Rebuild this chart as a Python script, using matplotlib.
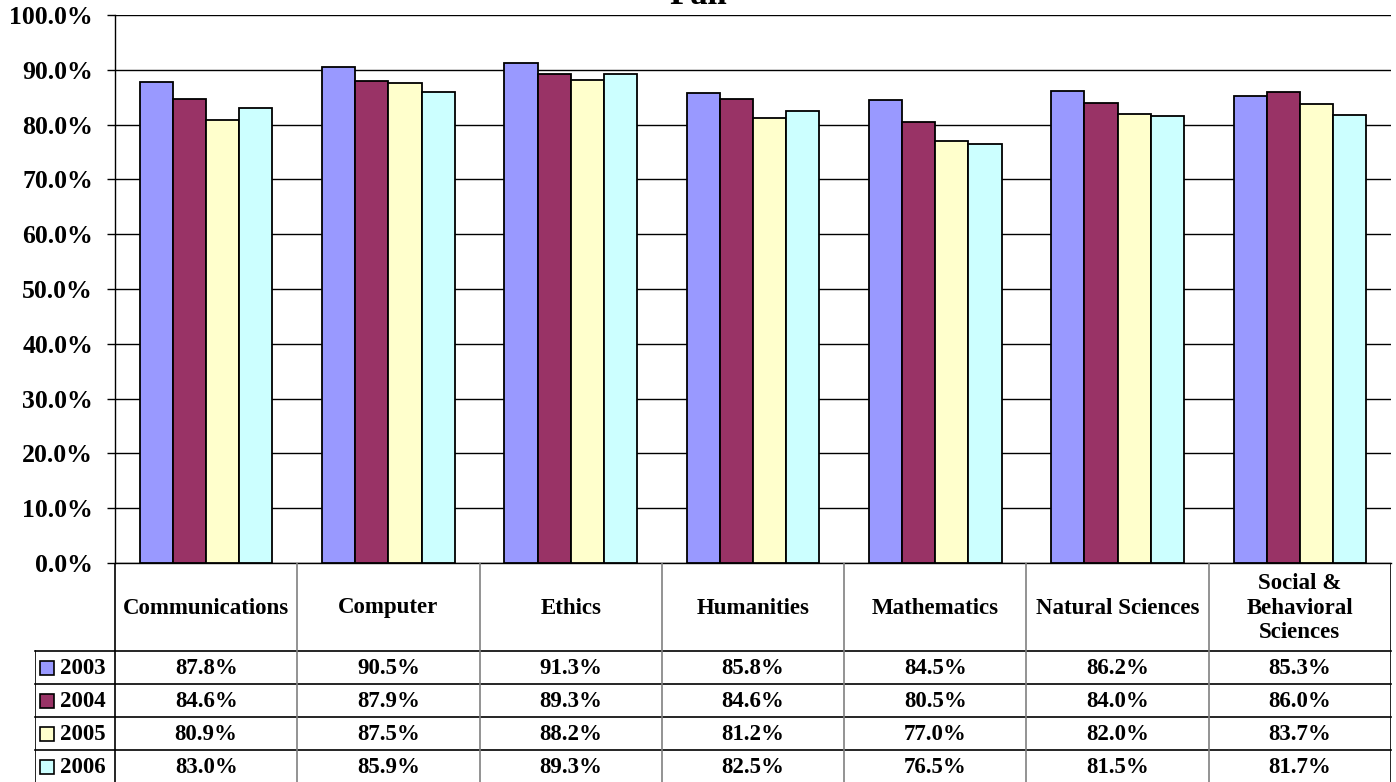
import numpy as np
import matplotlib
matplotlib.use("Agg")
import matplotlib.pyplot as plt
from matplotlib.patches import Rectangle

plt.rcParams['font.family'] = ['Liberation Serif', 'DejaVu Serif']
plt.rcParams['font.weight'] = 'bold'

categories = ["Communications", "Computer", "Ethics", "Humanities",
              "Mathematics", "Natural Sciences", "Social &\nBehavioral\nSciences"]
years = ["2003", "2004", "2005", "2006"]
v2003 = [87.8, 90.5, 91.3, 85.8, 84.5, 86.2, 85.3]
v2004 = [84.6, 87.9, 89.3, 84.6, 80.5, 84.0, 86.0]
v2005 = [80.9, 87.5, 88.2, 81.2, 77.0, 82.0, 83.7]
v2006 = [83.0, 85.9, 89.3, 82.5, 76.5, 81.5, 81.7]
series = [v2003, v2004, v2005, v2006]
colors = ["#9999FF", "#993366", "#FFFFCC", "#CCFFFF"]

W, H = 1396, 782
fig = plt.figure(figsize=(W / 100, H / 100), dpi=100)

# plot area in pixels
x0, x1 = 115, 1391
y_top, y_bot = 15, 563
ax = fig.add_axes([x0 / W, (H - y_bot) / H, (x1 - x0) / W, (y_bot - y_top) / H])

n = len(categories)
bw = 1 / (len(years) + 1.5)
xc = np.arange(n) + 0.5
for k, (vals, c) in enumerate(zip(series, colors)):
    ax.bar(xc + (k - 1.5) * bw, vals, width=bw, color=c,
           edgecolor='black', linewidth=1.3, zorder=3)

ax.set_xlim(0, n)
ax.set_ylim(0, 100)
ax.set_yticks(np.arange(0, 101, 10))
ax.set_yticklabels([f"{t:.1f}%" for t in range(0, 101, 10)], fontsize=18.5, fontweight='bold')
ax.set_xticks([])
ax.grid(axis='y', color='black', linewidth=1, zorder=0)
ax.tick_params(axis='y', length=5.8, width=1, pad=10)
for s in ['top', 'right']:
    ax.spines[s].set_visible(False)
ax.spines['left'].set_linewidth(1)
ax.spines['bottom'].set_linewidth(1)

fig.text(0.5, 1 - 4 / H, "Fall", ha='center', va='baseline', fontsize=25, fontweight='bold')

# data table under the bars, x units shared with the bar axes
unit = (x1 - x0) / n
lab_left = (35 - x0) / unit
tab_h = H - y_bot
axt = fig.add_axes([35 / W, 0, (x1 - 35) / W, tab_h / H])
axt.set_xlim(lab_left, n)
axt.set_ylim(tab_h, 0)
axt.axis('off')

head_h = 88
row_h = 33.1
row_tops = [head_h + r * row_h for r in range(len(years))]
fs = 16.5

for yt in row_tops:
    axt.plot([lab_left, n], [yt, yt], color='black', lw=1.2, clip_on=False)
axt.plot([lab_left, lab_left], [head_h, tab_h], color='black', lw=1.2)
axt.plot([0, 0], [0, tab_h], color='black', lw=1.2)
for i in range(1, n):
    axt.plot([i, i], [0, tab_h], color='#808080', lw=1.2)
axt.plot([n, n], [0, tab_h], color='black', lw=1.2)

for i, name in enumerate(categories):
    axt.text(i + 0.5, head_h / 2 + 1, name, ha='center', va='center',
             fontsize=fs, fontweight='bold', linespacing=1.22)

sq = 14
for r, (yr, vals, c) in enumerate(zip(years, series, colors)):
    yc = row_tops[r] + row_h / 2
    axt.add_patch(Rectangle(((40 - x0) / unit, yc - sq / 2), sq / unit, sq,
                            facecolor=c, edgecolor='black', lw=1.2))
    axt.text((60 - x0) / unit, yc + 1, yr, ha='left', va='center',
             fontsize=fs, fontweight='bold')
    for i, v in enumerate(vals):
        axt.text(i + 0.5, yc + 1, f"{v:.1f}%", ha='center', va='center',
                 fontsize=fs, fontweight='bold')

fig.savefig("out.png", dpi=100)
